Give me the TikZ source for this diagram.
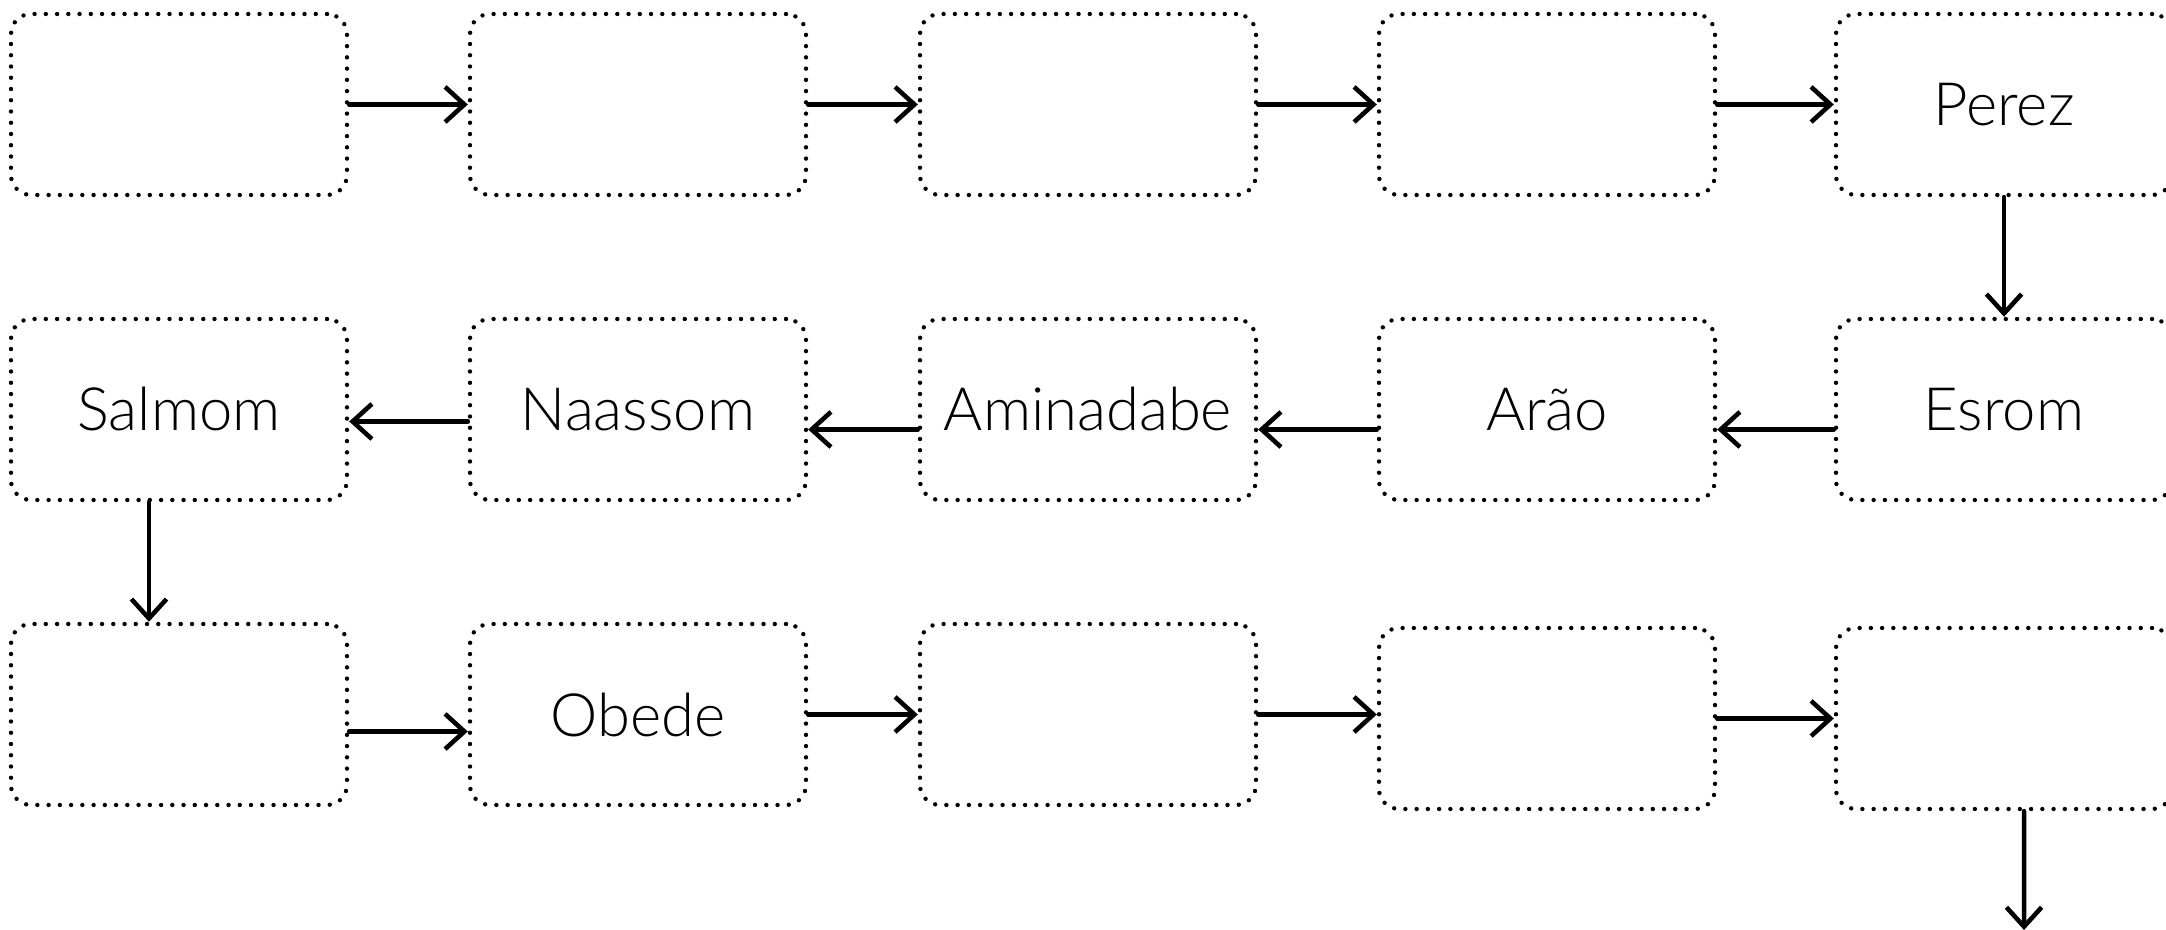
\documentclass[tikz,border=0pt]{standalone}
\usepackage{fontspec}
\setmainfont{Lato Light}
\usetikzlibrary{arrows.meta}
\tikzset{
box/.style={draw, line width=1.25pt, line cap=round, dash pattern=on 0pt off 3.2pt,
  rounded corners=0.2cm, minimum width=3.36cm, minimum height=1.81cm, font=\fontsize{17}{20}\selectfont},
link/.style={line width=1.3pt, line cap=round, -{Straight Barb[length=5.5pt,width=10pt,line width=1.3pt]}}
}

\begin{document}
\begin{tikzpicture}
\useasboundingbox (0,0) rectangle (21.66,9.30);

% first row
\node[box] (a1) at (1.79,8.255) {};
\node[box] (a2) at (6.38,8.255) {};
\node[box] (a3) at (10.88,8.255) {};
\node[box] (a4) at (15.47,8.255) {};
\node[box] (perez) at (20.04,8.255) {Perez};
\draw[link] (a1.east) -- (a2.west);
\draw[link] (a2.east) -- (a3.west);
\draw[link] (a3.east) -- (a4.west);
\draw[link] (a4.east) -- (perez.west);

% second row, right to left
\node[box] (esrom) at (20.04,5.205) {Esrom};
\node[box] (arao) at (15.47,5.205) {Arão};
\node[box] (amin) at (10.88,5.205) {\raisebox{-0.08cm}{Aminadabe}};
\node[box] (naassom) at (6.38,5.205) {Naassom};
\node[box] (salmom) at (1.79,5.205) {Salmom};
\draw[link] (perez.south) -- (esrom.north);
\draw[link] ([yshift=-0.2cm]esrom.west) -- ([yshift=-0.2cm]arao.east);
\draw[link] ([yshift=-0.2cm]arao.west) -- ([yshift=-0.2cm]amin.east);
\draw[link] ([yshift=-0.2cm]amin.west) -- ([yshift=-0.2cm]naassom.east);
\draw[link] ([yshift=-0.12cm]naassom.west) -- ([yshift=-0.12cm]salmom.east);

% third row
\node[box] (c1) at (1.79,2.155) {};
\node[box] (obede) at (6.38,2.155) {Obede};
\node[box] (c3) at (10.88,2.155) {};
\node[box] (c4) at (15.47,2.115) {};
\node[box] (c5) at (20.04,2.115) {};
\draw[link] ([xshift=-0.3cm]salmom.south) -- ([xshift=-0.3cm]c1.north);
\draw[link] ([yshift=-0.17cm]c1.east) -- ([yshift=-0.17cm]obede.west);
\draw[link] (obede.east) -- (c3.west);
\draw[link] (c3.east) -- ([yshift=0.04cm]c4.west);
\draw[link] (c4.east) -- (c5.west);
\coordinate (next) at (20.24,0);
\draw[link] ([xshift=0.2cm]c5.south) -- (next);
\end{tikzpicture}
\end{document}
